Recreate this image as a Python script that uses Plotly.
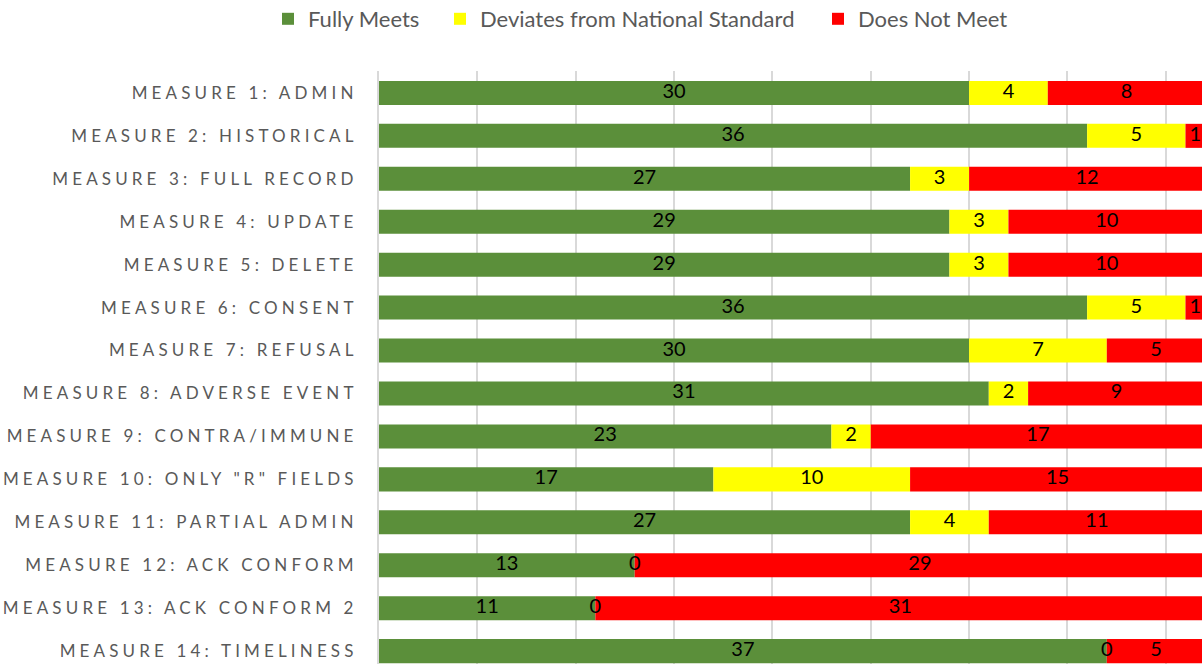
import plotly.graph_objects as go

categories = [
    "MEASURE 1: ADMIN", "MEASURE 2: HISTORICAL", "MEASURE 3: FULL RECORD",
    "MEASURE 4: UPDATE", "MEASURE 5: DELETE", "MEASURE 6: CONSENT",
    "MEASURE 7: REFUSAL", "MEASURE 8: ADVERSE EVENT", "MEASURE 9: CONTRA/IMMUNE",
    'MEASURE 10: ONLY "R" FIELDS', "MEASURE 11: PARTIAL ADMIN",
    "MEASURE 12: ACK CONFORM", "MEASURE 13: ACK CONFORM 2", "MEASURE 14: TIMELINESS",
]
fully_meets = [30, 36, 27, 29, 29, 36, 30, 31, 23, 17, 27, 13, 11, 37]
deviates = [4, 5, 3, 3, 3, 5, 7, 2, 2, 10, 4, 0, 0, 0]
not_meet = [8, 1, 12, 10, 10, 1, 5, 9, 17, 15, 11, 29, 31, 5]

series_names = ["Fully Meets", "Deviates from National Standard", "Does Not Meet"]
series_values = [fully_meets, deviates, not_meet]
series_colors = ["#5B8F3A", "#FFFF00", "#FF0000"]
legend_ids = ["legend", "legend2", "legend3"]

FONT = "Lato"
fig = go.Figure()

base = [0] * len(categories)
for name, vals, col, lg in zip(series_names, series_values, series_colors, legend_ids):
    fig.add_trace(go.Bar(
        name=name, y=categories, x=vals, base=base, orientation="h",
        marker=dict(color=col, line=dict(width=0)), width=0.56,
        legend=lg, hoverinfo="x+y+name",
    ))
    # data labels centered in each segment
    fig.add_trace(go.Scatter(
        x=[b + v / 2 for b, v in zip(base, vals)], y=categories,
        mode="text", text=[str(v) for v in vals], textposition="middle center",
        textfont=dict(family=FONT, size=20, color="#000000"),
        showlegend=False, hoverinfo="skip", cliponaxis=False,
    ))
    base = [b + v for b, v in zip(base, vals)]

legend_common = dict(
    orientation="h", xref="container", yref="container", yanchor="middle",
    xanchor="left", y=1 - 19 / 664, font=dict(family=FONT, size=22, color="#595959"),
    bgcolor="rgba(0,0,0,0)", borderwidth=0,
)
legend_x = [268 / 1202, 440 / 1202, 818 / 1202]

fig.update_layout(
    width=1202, height=664,
    margin=dict(l=379, r=0, t=71, b=0, pad=0),
    barmode="overlay",
    plot_bgcolor="white", paper_bgcolor="white",
    showlegend=True,
    legend=dict(**legend_common, x=legend_x[0]),
    legend2=dict(**legend_common, x=legend_x[1]),
    legend3=dict(**legend_common, x=legend_x[2]),
    xaxis=dict(range=[0, 41.84], dtick=5, tick0=0, showgrid=True, gridcolor="#D9D9D9",
               gridwidth=2, zeroline=False, showticklabels=False, ticks="",
               showline=False, fixedrange=True),
    yaxis=dict(type="category", categoryorder="array", categoryarray=categories,
               range=[13.30, -0.51], showgrid=False, zeroline=False,
               showline=True, linecolor="#D9D9D9", linewidth=2, ticks="",
               ticklabelstandoff=16,
               tickfont=dict(family=FONT, size=17, color="#595959"), fixedrange=True),
)

post = """
document.body.style.margin = '0';
document.body.style.padding = '0';
document.body.style.overflow = 'hidden';
var gd = document.getElementById('{plot_id}');
function spaceTicks(){
  document.querySelectorAll('.ytick text').forEach(function(t){
    t.style.letterSpacing = '4.15px';
  });
}
spaceTicks();
setTimeout(spaceTicks, 50);
setTimeout(spaceTicks, 300);
if (gd && gd.on) { gd.on('plotly_afterplot', spaceTicks); }
"""

fig.write_html("out.html", post_script=post, config={"displayModeBar": False})
